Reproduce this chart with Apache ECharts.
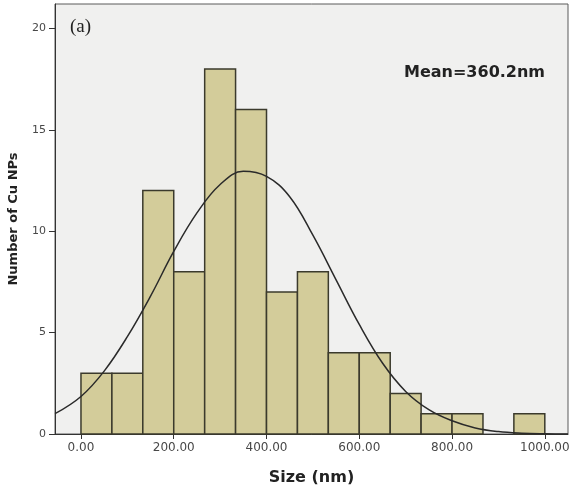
<!DOCTYPE html>
<html>
<head>
<meta charset="utf-8">
<script src="https://cdn.jsdelivr.net/npm/echarts@6/dist/echarts.min.js"></script>
<style>
  html, body { margin: 0; padding: 0; background: #fff; }
  #main { width: 572px; height: 487px; }
</style>
</head>
<body>
<div id="main"></div>
<script>
// histogram bins (nm) and counts
const binStart = [0, 66.7, 133.3, 200, 266.7, 333.3, 400, 466.7, 533.3, 600, 666.7, 733.3, 800, 866.7, 933.3];
const binEnd   = [66.7, 133.3, 200, 266.7, 333.3, 400, 466.7, 533.3, 600, 666.7, 733.3, 800, 866.7, 933.3, 1000];
const counts   = [3, 3, 12, 8, 18, 16, 7, 8, 4, 4, 2, 1, 1, 0, 1];

// normal curve
const curveX = [-56, 0, 50, 100, 150, 200, 250, 300, 350, 400, 450, 500, 550, 600, 650, 700, 750, 800, 850, 900, 950, 1000, 1050];
const curveY = [1.0, 1.85, 3.1, 4.8, 6.8, 9.0, 10.9, 12.3, 12.95, 12.7, 11.7, 9.8, 7.6, 5.4, 3.5, 2.1, 1.2, 0.65, 0.3, 0.12, 0.04, 0.01, 0.0];

const xTicks = [0, 200, 400, 600, 800, 1000];
const yTicks = [0, 5, 10, 15, 20];

const myChart = echarts.init(document.getElementById('main'));

const option = {
  backgroundColor: '#ffffff',
  animation: false,
  grid: {
    left: 55, right: 4, top: 4, bottom: 53,
    outerBoundsMode: 'none',
    containLabel: false,
    show: true,
    backgroundColor: '#f0f0ef',
    borderColor: '#5a5a5a',
    borderWidth: 1
  },
  xAxis: {
    type: 'value',
    min: -56,
    max: 1050,
    name: 'Size (nm)',
    nameLocation: 'center',
    nameGap: 36,
    nameTextStyle: { fontFamily: 'DejaVu Sans', fontWeight: 'bold', fontSize: 16, color: '#222' },
    axisLine: { show: true, onZero: false, lineStyle: { color: '#333', width: 1 } },
    axisTick: { show: true, length: 5, customValues: xTicks, lineStyle: { color: '#333' } },
    axisLabel: {
      customValues: xTicks,
      fontFamily: 'DejaVu Sans', fontSize: 12, color: '#484848', margin: 8,
      formatter: v => v.toFixed(2)
    },
    splitLine: { show: false }
  },
  yAxis: {
    type: 'value',
    min: 0,
    max: 21.2,
    name: 'Number of Cu NPs',
    nameLocation: 'center',
    nameGap: 35,
    nameTextStyle: { fontFamily: 'DejaVu Sans', fontWeight: 'bold', fontSize: 13, color: '#222' },
    axisLine: { show: true, onZero: false, lineStyle: { color: '#333', width: 1 } },
    axisTick: { show: true, length: 6, customValues: yTicks, lineStyle: { color: '#333' } },
    axisLabel: { customValues: yTicks, fontFamily: 'DejaVu Sans', fontSize: 11, color: '#484848', margin: 9 },
    splitLine: { show: false }
  },
  series: [
    {
      type: 'custom',
      data: counts.map((c, i) => [binStart[i], binEnd[i], c]),
      renderItem: function (params, api) {
        if (api.value(2) <= 0) return null;
        const p0 = api.coord([api.value(0), api.value(2)]);
        const p1 = api.coord([api.value(1), 0]);
        return {
          type: 'rect',
          shape: { x: p0[0], y: p0[1], width: p1[0] - p0[0], height: p1[1] - p0[1] },
          style: { fill: '#d3cc9a', stroke: '#3b3a2c', lineWidth: 1.5 }
        };
      },
      z: 2
    },
    {
      type: 'line',
      data: curveX.map((x, i) => [x, curveY[i]]),
      smooth: 0.4,
      showSymbol: false,
      lineStyle: { color: '#2a2a2a', width: 1.5 },
      z: 3
    }
  ],
  graphic: [
    {
      type: 'text', left: 404, top: 65,
      style: { text: 'Mean=360.2nm', font: 'bold 16px "DejaVu Sans"', fill: '#222' }
    },
    {
      type: 'text', left: 70, top: 18,
      style: { text: '(a)', font: '19px "Liberation Serif"', fill: '#222' }
    }
  ]
};

myChart.setOption(option);
</script>
</body>
</html>
